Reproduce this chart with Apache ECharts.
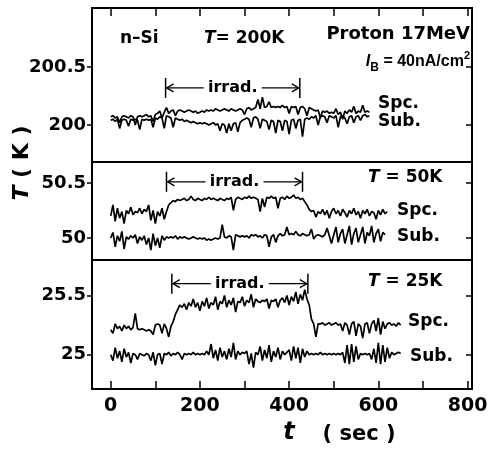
<!DOCTYPE html>
<html><head><meta charset="utf-8">
<script src="https://cdn.jsdelivr.net/npm/echarts@6/dist/echarts.min.js"></script>
<style>html,body{margin:0;padding:0;background:#fff}#c{width:488px;height:450px}</style>
</head><body><div id="c"></div>
<script>
// time stamps (sec)
const times = [0,5,10,15,20,25,30,35,40,45,50,55,60,65,70,75,80,85,90,95,100,105,110,115,120,125,130,135,140,145,150,155,160,165,170,175,180,185,190,195,200,205,210,215,220,225,230,235,240,245,250,255,260,265,270,275,280,285,290,295,300,305,310,315,320,325,330,335,340,345,350,355,360,365,370,375,380,385,390,395,400,405,410,415,420,425,430,435,440,445,450,455,460,465,470,475,480,485,490,495,500,505,510,515,520,525,530,535,540,545,550,555,560,565,570,575,580,585,590,595,600,605,610,615,620,625,630,635,640,645,650];

// T = 200K panel
const spc200 = [200.07,200.08,200.06,200.07,200.02,200.07,200.08,200.07,200.06,200.08,
200.07,200.00,200.07,200.08,200.07,200.08,200.09,200.07,200.08,200.03,
200.09,200.10,200.12,200.06,200.11,200.15,200.10,200.12,200.13,200.08,
200.12,200.13,200.12,200.11,200.12,200.13,200.12,200.11,200.12,200.10,
200.11,200.12,200.11,200.13,200.12,200.13,200.12,200.14,200.13,200.12,
200.13,200.14,200.13,200.12,200.14,200.13,200.12,200.13,200.14,200.13,
200.09,200.14,200.15,200.13,200.14,200.15,200.22,200.14,200.24,200.15,
200.16,200.20,200.15,200.16,200.15,200.16,200.15,200.17,200.15,200.16,
200.10,200.16,200.15,200.16,200.09,200.15,200.16,200.14,200.08,200.15,
200.14,200.13,200.12,200.13,200.06,200.12,200.11,200.12,200.10,200.11,
200.10,200.14,200.09,200.11,200.05,200.12,200.10,200.13,200.11,200.16,
200.10,200.12,200.11,200.17,200.11,200.12,200.11];
const sub200 = [200.04,200.05,200.03,200.05,199.97,200.04,200.05,200.04,199.99,200.05,
200.04,200.05,200.04,199.96,200.05,200.04,200.05,200.04,200.05,199.98,
200.06,200.05,200.07,200.06,199.97,200.08,200.07,200.06,199.98,200.06,
200.05,200.04,200.05,200.03,200.04,200.03,200.02,200.03,200.02,200.01,
200.02,200.01,200.02,200.01,200.00,200.01,200.02,200.00,200.01,199.95,
200.01,200.00,199.93,200.01,199.95,200.01,200.02,199.94,200.02,200.04,
200.05,200.06,200.05,199.98,200.06,200.07,200.05,199.97,200.05,200.04,
200.03,199.96,200.04,200.03,199.93,200.04,200.03,199.95,200.04,200.03,
199.92,200.04,200.05,199.97,200.04,200.05,199.90,200.05,200.06,200.05,
200.07,200.06,200.08,200.00,200.07,200.08,200.07,200.02,200.08,200.07,
200.06,200.08,199.98,200.07,200.08,200.06,200.01,200.07,200.08,200.02,
200.07,200.08,200.04,200.08,200.09,200.07,200.08];

// T = 50K panel
const spc50 = [50.20,50.30,50.15,50.27,50.18,50.24,50.13,50.25,50.22,50.28,
50.21,50.24,50.23,50.27,50.22,50.26,50.24,50.30,50.16,50.25,
50.13,50.24,50.20,50.27,50.17,50.24,50.30,50.32,50.34,50.33,
50.35,50.34,50.35,50.36,50.34,50.35,50.38,50.35,50.34,50.36,
50.35,50.34,50.36,50.35,50.37,50.35,50.36,50.35,50.34,50.36,
50.35,50.34,50.36,50.35,50.37,50.25,50.35,50.37,50.36,50.35,
50.37,50.36,50.38,50.36,50.37,50.36,50.35,50.24,50.36,50.28,
50.37,50.36,50.38,50.36,50.37,50.27,50.36,50.37,50.35,50.38,
50.36,50.37,50.39,50.36,50.37,50.35,50.36,50.33,50.30,50.26,
50.24,50.25,50.19,50.24,50.22,50.26,50.21,50.25,50.18,50.24,
50.27,50.22,50.25,50.20,50.26,50.23,50.19,50.25,50.22,50.27,
50.21,50.24,50.18,50.25,50.22,50.26,50.20,50.24,50.23,50.17,
50.25,50.21,50.26,50.22,50.24];
const sub50 = [50.00,50.05,49.92,50.02,49.97,50.06,49.90,50.01,49.99,50.02,
50.00,50.03,49.95,50.01,49.98,50.02,49.94,50.00,49.89,50.04,
49.93,50.00,49.91,50.02,49.98,50.01,50.00,50.01,50.00,50.02,
49.99,50.01,50.00,50.01,50.00,49.99,50.00,50.01,50.00,49.99,
50.00,49.99,50.00,49.98,49.99,49.98,49.99,50.00,49.99,50.00,
50.12,50.01,50.00,50.02,50.01,49.89,50.03,50.02,50.01,50.02,
50.01,50.02,50.00,50.03,50.02,50.03,50.01,50.02,50.00,50.03,
50.02,49.92,50.01,50.03,49.96,50.02,50.04,50.02,50.03,50.10,
50.03,50.04,50.03,50.06,50.03,50.02,50.04,50.03,50.02,50.03,
50.08,49.99,50.02,50.03,50.02,50.01,50.03,50.09,50.02,49.95,
50.03,50.10,49.96,50.04,50.08,49.95,50.03,50.11,49.94,50.04,
50.09,49.96,50.03,50.10,49.95,50.05,50.02,50.11,49.96,50.04,
50.08,49.97,50.05,50.03];

// T = 25K panel
const spc25 = [25.21,25.18,25.26,25.22,25.24,25.20,25.25,25.22,25.24,25.21,
25.23,25.35,25.22,25.21,25.22,25.21,25.20,25.21,25.20,25.17,
25.25,25.26,25.25,25.18,25.26,25.22,25.15,25.24,25.28,25.34,
25.38,25.42,25.40,25.43,25.38,25.44,25.41,25.47,25.40,25.44,
25.37,25.45,25.41,25.48,25.39,25.44,25.42,25.49,25.38,25.45,
25.43,25.50,25.40,25.46,25.42,25.48,25.36,25.45,25.44,25.49,
25.41,25.46,25.44,25.51,25.40,25.47,25.45,25.44,25.46,25.45,
25.47,25.39,25.46,25.45,25.47,25.40,25.46,25.48,25.44,25.50,
25.42,25.49,25.45,25.53,25.43,25.51,25.46,25.55,25.47,25.42,
25.30,25.26,25.15,25.26,25.26,25.27,25.25,25.26,25.27,25.25,
25.26,25.27,25.25,25.26,25.20,25.27,25.25,25.17,25.26,25.28,
25.16,25.26,25.24,25.14,25.26,25.27,25.18,25.26,25.29,25.20,
25.31,25.17,25.28,25.22,25.26,25.27,25.25,25.26,25.24,25.27,
25.25];
const sub25 = [25.00,24.95,25.06,24.97,25.03,24.94,25.05,24.98,25.02,24.93,
25.01,25.00,24.96,25.01,25.00,24.99,25.01,25.00,24.95,25.02,
24.91,25.00,25.01,24.92,25.01,25.00,25.02,24.99,25.01,25.00,
25.02,25.00,24.96,25.01,25.00,25.01,25.00,25.02,25.00,25.01,
25.00,25.01,25.00,25.03,25.00,25.09,24.97,25.04,24.95,25.06,
24.98,25.03,24.96,25.05,24.98,25.10,24.96,25.03,25.00,25.02,
25.01,25.03,24.92,25.01,24.89,25.02,25.00,25.07,24.95,25.04,
24.97,25.08,24.94,25.03,24.98,25.06,24.96,25.03,25.00,25.02,
25.04,24.95,25.07,24.97,25.06,24.93,25.05,24.98,25.03,25.00,
25.01,25.00,25.01,25.00,25.02,25.00,25.01,25.00,25.01,25.00,
25.01,25.00,25.01,25.00,25.02,24.93,25.08,24.92,25.09,24.94,
25.07,24.96,25.01,25.00,25.01,25.00,25.01,24.96,25.05,24.93,
25.10,24.92,25.08,24.94,25.06,24.97,25.02,25.00,25.01,25.02,
25.01];

// axes
const xTicks = [0,100,200,300,400,500,600,700,800];
const xLabels = [0,200,400,600,800];
const xRange = [-42, 810];
const yRanges = [[199.68,201.01],[49.80,50.69],[24.71,25.80]];
const yTicks = [[200,200.5],[50,50.5],[25,25.5]];
// irradiation intervals (sec) and arrow level
const irradStart = [123,125,137];
const irradEnd = [424,430,442];
const irradLevel = [200.32,50.51,25.60];

const FONT = 'DejaVu Sans';
const chart = echarts.init(document.getElementById('c'), null, {renderer:'canvas'});
const grids = [
  {left:92, top:8, width:380, height:154},
  {left:92, top:162, width:380, height:98},
  {left:92, top:260, width:380, height:129}
].map(g => Object.assign(g, {show:true, borderColor:'#000', borderWidth:2, backgroundColor:'transparent',
  containLabel:false, outerBoundsMode:'none'}));

const tickStyle = {color:'#000', width:1.5};
const frameLine = {show:true, onZero:false, lineStyle:{color:'#000', width:2}};
const xAxis = [0,1,2].map(i => ({
  type:'value', gridIndex:i, min:xRange[0], max:xRange[1], position: i===0 ? 'top' : 'bottom',
  axisLine:frameLine, splitLine:{show:false},
  axisTick:{show:i!==1, inside:true, length:8, customValues:xTicks, lineStyle:tickStyle},
  axisLabel:{show:i===2, customValues:xLabels, margin:8, color:'#000', fontFamily:FONT, fontWeight:'bold', fontSize:19}
}));
const yAxis = [];
[0,1,2].forEach(i => {
  yAxis.push({type:'value', gridIndex:i, min:yRanges[i][0], max:yRanges[i][1], position:'left',
    axisLine:frameLine, splitLine:{show:false},
    axisTick:{show:true, inside:false, length:5, customValues:yTicks[i], lineStyle:tickStyle},
    axisLabel:{customValues:yTicks[i], formatter:v => String(v), margin:6, color:'#000', fontFamily:FONT, fontWeight:'bold', fontSize:18}});
  yAxis.push({type:'value', gridIndex:i, min:yRanges[i][0], max:yRanges[i][1], position:'right',
    axisLine:frameLine, splitLine:{show:false},
    axisTick:{show:true, inside:true, length:6, customValues:yTicks[i], lineStyle:tickStyle},
    axisLabel:{show:false}});
});
const zip = vals => vals.map((v,k) => [times[k], v]);
const mk = (name, vals, i) => ({name, type:'line', xAxisIndex:i, yAxisIndex:i*2, data:zip(vals),
  showSymbol:false, symbol:'none', clip:true, lineStyle:{color:'#000', width:1.7}, animation:false});
const series = [mk('Spc. 200K', spc200, 0), mk('Sub. 200K', sub200, 0),
  mk('Spc. 50K', spc50, 1), mk('Sub. 50K', sub50, 1),
  mk('Spc. 25K', spc25, 2), mk('Sub. 25K', sub25, 2)];

chart.setOption({animation:false, backgroundColor:'#fff', grid:grids, xAxis, yAxis, series});

function txt(x, y, text, opts) {
  opts = opts || {};
  const size = opts.size || 17, fam = opts.family || FONT;
  const align = opts.align || 'left';
  return {type:'text', x, y, rotation: opts.rotation || 0, z:10,
    style:{text, fontSize:size, fontFamily:fam, fontWeight:'bold', fill:'#000',
      align, verticalAlign:'middle', textAlign:align, textVerticalAlign:'middle',
      rich: opts.rich}};
}
const italT = size => ({i:{fontStyle:'italic', fontWeight:'bold', fontSize:size, fontFamily:FONT, fill:'#000'}});
const g = [];
// frame right edges (through the axes' scales)
[0,1,2].forEach(i => {
  const p = chart.convertToPixel({xAxisIndex:i, yAxisIndex:i*2}, [xRange[1], yRanges[i][1]]);
  const q = chart.convertToPixel({xAxisIndex:i, yAxisIndex:i*2}, [xRange[1], yRanges[i][0]]);
  g.push({type:'line', z:20, shape:{x1:p[0], y1:p[1]-1, x2:q[0], y2:q[1]+1}, style:{stroke:'#000', lineWidth:2}});
});
// irradiation arrows
[0,1,2].forEach(i => {
  const a = chart.convertToPixel({xAxisIndex:i, yAxisIndex:i*2}, [irradStart[i], irradLevel[i]]);
  const b = chart.convertToPixel({xAxisIndex:i, yAxisIndex:i*2}, [irradEnd[i], irradLevel[i]]);
  const y = a[1], xs = a[0], xe = b[0], mid = (xs + xe) / 2;
  const st = {stroke:'#000', lineWidth:1.5, fill:null};
  g.push({type:'line', shape:{x1:xs, y1:y-10, x2:xs, y2:y+10}, style:st});
  g.push({type:'line', shape:{x1:xe, y1:y-10, x2:xe, y2:y+10}, style:st});
  g.push({type:'line', shape:{x1:xs+1, y1:y, x2:mid-29, y2:y}, style:{stroke:'#000', lineWidth:1.3}});
  g.push({type:'line', shape:{x1:mid+29, y1:y, x2:xe-1, y2:y}, style:{stroke:'#000', lineWidth:1.3}});
  g.push({type:'polyline', shape:{points:[[xs+8,y-4],[xs+1,y],[xs+8,y+4]]}, style:{stroke:'#000', lineWidth:1.3, fill:null}});
  g.push({type:'polyline', shape:{points:[[xe-8,y-4],[xe-1,y],[xe-8,y+4]]}, style:{stroke:'#000', lineWidth:1.3, fill:null}});
  g.push(txt(mid, y, 'irrad.', {size:16, align:'center'}));
});
// panel annotations
g.push(txt(120, 39, 'n–Si'));
g.push(txt(204, 39, '{i|T}= 200K', {rich:italT(17)}));
g.push(txt(470, 34, 'Proton 17MeV', {size:18, align:'right'}));
g.push(txt(470, 62, '{i|I}{s|B} = 40nA/cm{p|2}', {size:16, family:'Liberation Sans', align:'right', rich:{
  i:{fontStyle:'italic', fontWeight:'bold', fontSize:16, fontFamily:'Liberation Sans', lineHeight:24, fill:'#000'},
  s:{fontWeight:'bold', fontSize:12, fontFamily:'Liberation Sans', lineHeight:12, verticalAlign:'bottom', fill:'#000'},
  p:{fontWeight:'bold', fontSize:11, fontFamily:'Liberation Sans', lineHeight:14, verticalAlign:'top', fill:'#000'}}}));
g.push(txt(378, 104, 'Spc.'));
g.push(txt(378, 122, 'Sub.'));
g.push(txt(368, 178, '{i|T} = 50K', {rich:italT(17)}));
g.push(txt(397, 211, 'Spc.'));
g.push(txt(397, 237, 'Sub.'));
g.push(txt(368, 282, '{i|T} = 25K', {rich:italT(17)}));
g.push(txt(408, 322, 'Spc.'));
g.push(txt(410, 357, 'Sub.'));
// axis titles
g.push(txt(22, 163, '{i|T} ( K )', {size:22, align:'center', rotation:Math.PI/2, rich:italT(22)}));
g.push(txt(289, 433, '{i|t}', {size:24, align:'center', rich:italT(24)}));
g.push(txt(359, 435, '( sec )', {size:21, align:'center'}));
chart.setOption({graphic:{elements:g}});
</script></body></html>
